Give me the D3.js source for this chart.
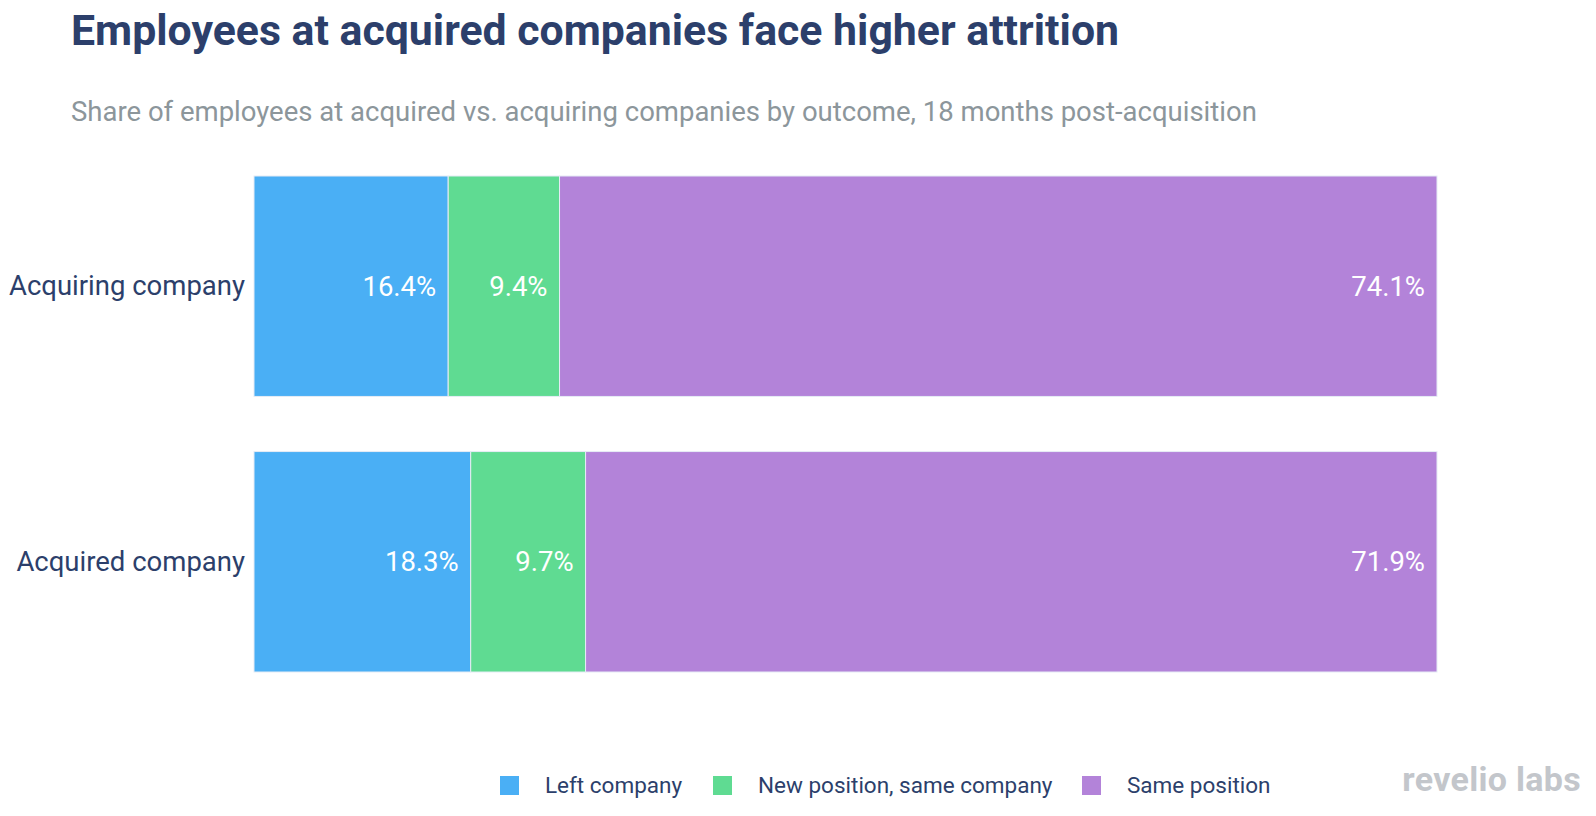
<!DOCTYPE html>
<html><head><meta charset="utf-8">
<script src="https://cdn.jsdelivr.net/npm/d3@7"></script>
<style>body{margin:0;background:#fff;} svg{display:block;font-family:Roboto, "Noto Sans", sans-serif;}</style>
</head><body>
<svg id="chart" width="1596" height="816"></svg>
<script>
const categories = ["Acquiring company", "Acquired company"];
const seriesNames = ["Left company", "New position, same company", "Same position"];
const leftCompany = [16.4, 18.3];
const newPosition = [9.4, 9.7];
const samePosition = [74.1, 71.9];
const colors = ["#4aaff5", "#5fdb92", "#b383d9"];

const rows = categories.map((c, i) => ({
  category: c,
  "Left company": leftCompany[i],
  "New position, same company": newPosition[i],
  "Same position": samePosition[i]
}));

const svg = d3.select("#chart");
const margin = {left: 254, right: 159, top: 176, bottom: 144};
const W = 1596, H = 816;

const stack = d3.stack().keys(seriesNames);
const series = stack(rows);
const maxTotal = d3.max(rows, r => seriesNames.reduce((s, k) => s + r[k], 0));

const x = d3.scaleLinear().domain([0, maxTotal]).range([margin.left, W - margin.right]);
const y = d3.scaleBand().domain(categories).range([margin.top, H - margin.bottom]).paddingInner(0.2).paddingOuter(0);
const color = d3.scaleOrdinal().domain(seriesNames).range(colors);

// Title & subtitle
svg.append("text").attr("x", 71).attr("y", 45)
  .attr("font-size", 42.8).attr("font-weight", 700).attr("fill", "#2c3f6b")
  .text("Employees at acquired companies face higher attrition");
svg.append("text").attr("x", 71).attr("y", 121)
  .attr("font-size", 27.5).attr("fill", "#8c969b")
  .text("Share of employees at acquired vs. acquiring companies by outcome, 18 months post-acquisition");

// Bars
const g = svg.append("g");
const layers = g.selectAll("g.layer").data(series).join("g")
  .attr("fill", d => color(d.key));
layers.selectAll("rect").data(d => d).join("rect")
  .attr("x", d => x(d[0]))
  .attr("y", d => y(d.data.category))
  .attr("width", d => x(d[1]) - x(d[0]))
  .attr("height", y.bandwidth())
  .attr("stroke", "#e6ecf5").attr("stroke-width", 1);

// Value labels
layers.selectAll("text").data(d => d).join("text")
  .attr("x", d => x(d[1]) - 12)
  .attr("y", d => y(d.data.category) + y.bandwidth() / 2)
  .attr("dy", "0.35em")
  .attr("text-anchor", "end")
  .attr("font-size", 27.5).attr("fill", "#ffffff")
  .text(d => d3.format(".1f")(d[1] - d[0]) + "%");

// Category axis
const yAxis = d3.axisLeft(y).tickSize(0).tickPadding(9);
const ax = svg.append("g").attr("transform", `translate(${margin.left},0)`).call(yAxis);
ax.select(".domain").remove();
ax.selectAll("text").attr("font-size", 27.5).attr("fill", "#2c3f6b").attr("font-family", "Roboto, sans-serif");

// Legend
const legendX = [500, 713, 1082];
const lg = svg.append("g");
seriesNames.forEach((n, i) => {
  lg.append("rect").attr("x", legendX[i]).attr("y", 776).attr("width", 19).attr("height", 19).attr("fill", colors[i]);
  lg.append("text").attr("x", legendX[i] + 45).attr("y", 793)
    .attr("font-size", 22.5).attr("fill", "#2c3f6b").text(n);
});

// Logo
svg.append("text").attr("x", 1581).attr("y", 791).attr("text-anchor", "end")
  .attr("font-size", 34).attr("font-weight", 700).attr("fill", "#c3c6cb")
  .attr("letter-spacing", "0.3").text("revelio labs");
</script>
</body></html>
